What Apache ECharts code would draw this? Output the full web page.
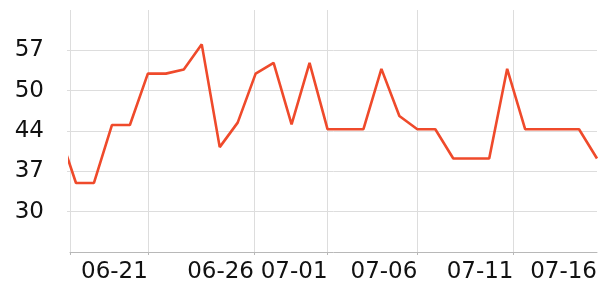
<!DOCTYPE html>
<html>
<head>
<meta charset="utf-8">
<script src="https://cdn.jsdelivr.net/npm/echarts@6/dist/echarts.min.js"></script>
<style>html,body{margin:0;padding:0;background:#fff}#c{width:600px;height:300px}</style>
</head>
<body>
<div id="c"></div>
<script>
const year = 2024;
const dates = ['06-16','06-17','06-18','06-19','06-20','06-21','06-22','06-23','06-24','06-25','06-26','06-27','06-28','06-29','06-30',
  '07-01','07-02','07-03','07-04','07-05','07-06','07-07','07-08','07-09','07-10','07-11','07-12','07-13','07-14','07-15','07-16'];
const values = [43.8,34.8,34.8,44.5,44.5,53.1,53.1,53.8,58.0,40.8,44.9,53.1,54.9,44.6,54.9,
  43.8,43.8,43.8,53.9,46.0,43.8,43.8,38.9,38.9,38.9,53.9,43.8,43.8,43.8,43.8,38.9];
const xTickTimes = ['06-16 16:00','06-21 00:00','06-26 21:45','07-01 00:00','07-06 00:00','07-11 08:24'];
const xLabelTimes = ['06-21 00:00','06-26 21:45','07-01 00:00','07-06 00:00','07-11 08:24','07-16 00:00'];
const xMin = '06-16 16:00';
const xMax = '07-16 00:00';
const yMin = 23.25, yMax = 63.75, yInterval = 6.75;

function t(s) {
  const p = s.split(' ');
  const hm = p[1] ? p[1] : '00:00';
  return new Date(year + '-' + p[0] + 'T' + hm + ':00').getTime();
}
function pad(n) { return (n < 10 ? '0' : '') + n; }

const chart = echarts.init(document.getElementById('c'), null, {renderer: 'canvas'});
const font = 'DejaVu Sans';
chart.setOption({
  animation: false,
  grid: {left: 70, right: 2, top: 10, bottom: 48, containLabel: false},
  xAxis: {
    type: 'value',
    min: t(xMin), max: t(xMax),
    axisLine: {show: true, lineStyle: {color: '#b8b8b8', width: 1}},
    axisTick: {show: true, length: 3, lineStyle: {color: '#b8b8b8'}, customValues: xTickTimes.map(t)},
    axisLabel: {
      customValues: xLabelTimes.map(t),
      align: 'right', margin: 9, fontFamily: font, fontSize: 23, color: '#111',
      formatter: v => { const d = new Date(v); return pad(d.getMonth() + 1) + '-' + pad(d.getDate()); }
    },
    splitLine: {show: true, lineStyle: {color: '#dddddd', width: 1}}
  },
  yAxis: {
    type: 'value', min: yMin, max: yMax, interval: yInterval,
    axisLine: {show: false},
    axisTick: {show: true, length: 3, lineStyle: {color: '#dddddd'}},
    axisLabel: {showMinLabel: false, showMaxLabel: false, margin: 26, fontFamily: font, fontSize: 23, color: '#111',
      formatter: v => String(Math.round(v))},
    splitLine: {show: true, showMinLine: false, showMaxLine: false, lineStyle: {color: '#dddddd', width: 1}}
  },
  series: [{
    type: 'line',
    data: dates.map((d, i) => [t(d), values[i]]),
    showSymbol: false,
    lineStyle: {color: '#ef4a2b', width: 2.6},
    itemStyle: {color: '#ef4a2b'},
    clip: true
  }]
});
</script>
</body>
</html>
